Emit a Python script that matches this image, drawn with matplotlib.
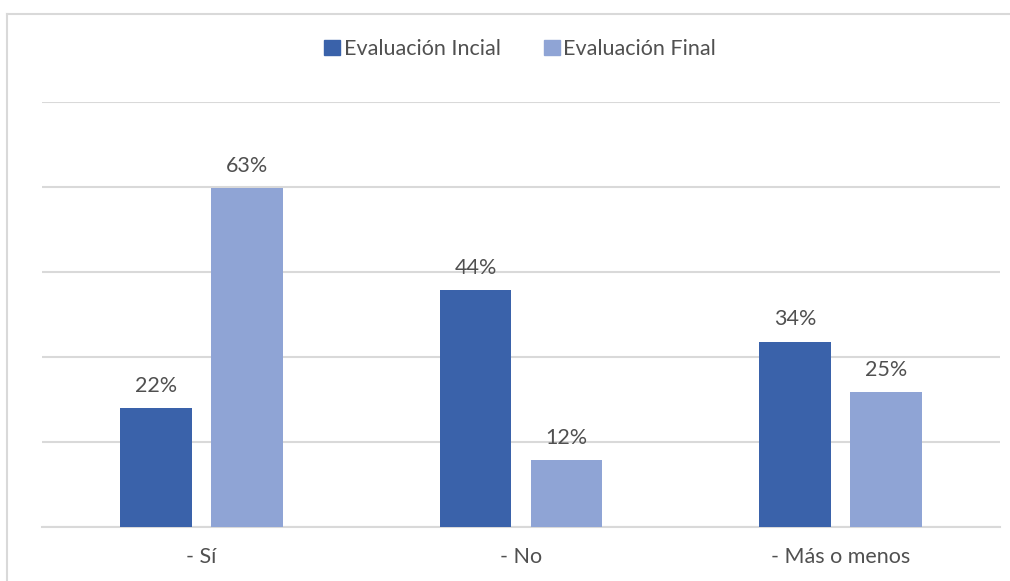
import numpy as np
import matplotlib.pyplot as plt
from matplotlib.lines import Line2D
from matplotlib.patches import Patch

# --- data ---
categories = ["- Sí", "- No", "- Más o menos"]
inicial = [0.22, 0.44, 0.344]
final = [0.63, 0.123, 0.25]
inicial_labels = ["22%", "44%", "34%"]
final_labels = ["63%", "12%", "25%"]
series_names = ["Evaluación Incial", "Evaluación Final"]

DARK = "#3A62AA"
LIGHT = "#8FA4D5"
TEXT = "#505050"
GRID = "#D9D9D9"

plt.rcParams["font.family"] = ["Lato", "DejaVu Sans"]
FS = 15.5

fig = plt.figure(figsize=(10.10, 5.81), dpi=100)
ax = fig.add_axes([42 / 1010, 1 - 526.5 / 581, 958 / 1010, (526.5 - 102) / 581])

x = np.arange(len(categories))
w = 0.225
off = (w + 19 / 319) / 2
b1 = ax.bar(x - off, inicial, w, color=DARK, zorder=3)
b2 = ax.bar(x + off, final, w, color=LIGHT, zorder=3)

for bars, labels in ((b1, inicial_labels), (b2, final_labels)):
    for rect, lab in zip(bars, labels):
        ax.annotate(lab, (rect.get_x() + rect.get_width() / 2, rect.get_height()),
                    xytext=(0, 9), textcoords="offset points", ha="center",
                    va="bottom", fontsize=FS, color=TEXT)

ymax = 424.5 / 5.37 / 100
ax.set_ylim(0, ymax)
ax.set_yticks(np.linspace(0, ymax, 6))
ax.set_xlim(-0.5, 2.5)
ax.yaxis.grid(True, color=GRID, linewidth=1.5, zorder=0)
ax.set_yticklabels([])
ax.tick_params(axis="y", length=0)
ax.tick_params(axis="x", length=0, pad=15, labelsize=FS, labelcolor=TEXT)
ax.set_xticks(x)
ax.set_xticklabels(categories)
for s in ["top", "right", "left"]:
    ax.spines[s].set_visible(False)
ax.spines["bottom"].set_color(GRID)
ax.spines["bottom"].set_linewidth(1.5)

handles = [Patch(color=DARK), Patch(color=LIGHT)]
fig.legend(handles, series_names, loc="center", bbox_to_anchor=(520 / 1010, 1 - 49 / 581),
           ncol=2, frameon=False, fontsize=FS, labelcolor=TEXT,
           handlelength=0.75, handleheight=0.75, handletextpad=0.15, columnspacing=2.0)

# outer chart border (only top and left visible in the crop)
fig.add_artist(Line2D([7 / 1010, 1], [1 - 13.5 / 581] * 2, transform=fig.transFigure,
                      color=GRID, linewidth=1.5))
fig.add_artist(Line2D([7 / 1010] * 2, [0, 1 - 13.5 / 581], transform=fig.transFigure,
                      color=GRID, linewidth=1.5))

fig.savefig("out.png", dpi=100)
